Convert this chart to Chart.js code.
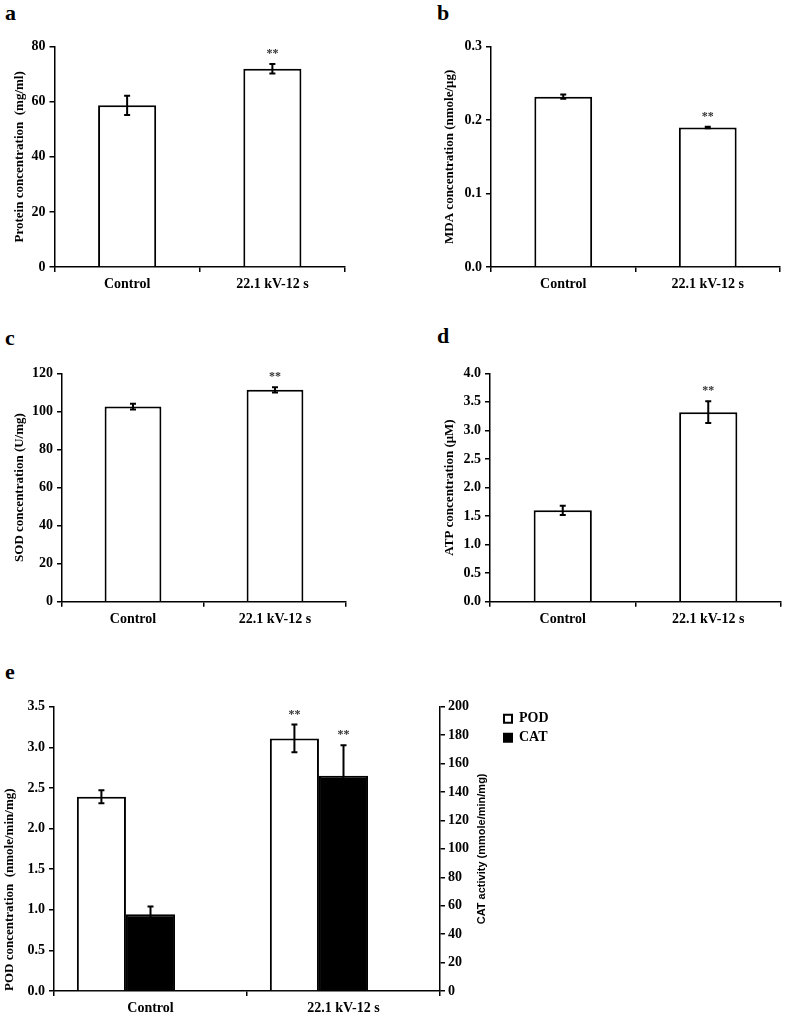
<!DOCTYPE html>
<html>
<head>
<meta charset="utf-8">
<script src="https://cdn.jsdelivr.net/npm/chart.js@4"></script>
<style>
  body { margin: 0; width: 787px; height: 1015px; overflow: hidden; background: #fff; position: relative; font-family: 'Liberation Serif', 'Times New Roman', serif; }
  canvas { position: absolute; }
  .tag { position: absolute; font-weight: bold; font-size: 22px; line-height: 22px; }
</style>
</head>
<body>
<div class="tag" style="left:5px;top:2px">a</div>
<div class="tag" style="left:437px;top:2px">b</div>
<div class="tag" style="left:5px;top:327px">c</div>
<div class="tag" style="left:437px;top:325px">d</div>
<div class="tag" style="left:5px;top:661px">e</div>
<canvas id="chartA"></canvas>
<canvas id="chartB"></canvas>
<canvas id="chartC"></canvas>
<canvas id="chartD"></canvas>
<canvas id="chartE"></canvas>
<script>
const categories = ['Control', '22.1 kV-12 s']
const significance = ['', '**']

const proteinMean = [58.7, 72.0]
const proteinErr = [3.5, 1.7]
const mdaMean = [0.232, 0.19]
const mdaErr = [0.003, 0.001]
const sodMean = [102.5, 111.3]
const sodErr = [1.5, 1.4]
const atpMean = [1.6, 3.32]
const atpErr = [0.08, 0.19]
const podMean = [2.39, 3.11]
const podErr = [0.08, 0.17]
const catMean = [54, 151.5]
const catErr = [5.4, 21.4]

Chart.defaults.font.family = "'Liberation Serif', 'Times New Roman', serif"
Chart.defaults.font.weight = 'bold'
Chart.defaults.font.size = 14
Chart.defaults.color = '#000'

// error bars and significance marks on top of each bar
const errorBars = {
  id: 'errorBars',
  afterDatasetsDraw(chart) {
    const ctx = chart.ctx
    chart.data.datasets.forEach((ds, i) => {
      if (!ds.errors) return
      const meta = chart.getDatasetMeta(i)
      const yScale = chart.scales[meta.yAxisID]
      meta.data.forEach((bar, j) => {
        const v = ds.data[j]
        const e = ds.errors[j]
        if (v == null) return
        const top = yScale.getPixelForValue(v + e)
        const bot = yScale.getPixelForValue(v - e)
        ctx.save()
        ctx.strokeStyle = '#000'
        ctx.lineWidth = 2
        ctx.beginPath()
        ctx.moveTo(bar.x, top); ctx.lineTo(bar.x, bot)
        ctx.moveTo(bar.x - 3, top); ctx.lineTo(bar.x + 3, top)
        ctx.moveTo(bar.x - 3, bot); ctx.lineTo(bar.x + 3, bot)
        ctx.stroke()
        if (ds.stars && ds.stars[j]) {
          ctx.fillStyle = '#333'
          ctx.font = "bold 12px 'Liberation Serif'"
          ctx.textAlign = 'center'
          ctx.textBaseline = 'middle'
          ctx.fillText(ds.stars[j], bar.x, top - 10)
        }
        ctx.restore()
      })
    })
  }
}

// right axis title reading bottom-to-top, like the left one
const rightTitle = {
  id: 'rightTitle',
  afterDraw(chart, args, opts) {
    const scale = chart.scales[opts.scaleId]
    if (!scale) return
    const ctx = chart.ctx
    ctx.save()
    ctx.translate(scale.right - opts.offset, (scale.top + scale.bottom) / 2)
    ctx.rotate(-Math.PI / 2)
    ctx.fillStyle = '#000'
    ctx.font = opts.font
    ctx.textAlign = 'center'
    ctx.textBaseline = 'middle'
    ctx.fillText(opts.text, 0, 0)
    ctx.restore()
  }
}

const axisLine = { color: '#000', width: 1.5 }
const tickMarks = { drawOnChartArea: false, color: '#000', lineWidth: 1.5, tickLength: 5 }

function place(canvas, pos) {
  canvas.width = pos.w
  canvas.height = pos.h
  canvas.style.left = pos.x + 'px'
  canvas.style.top = pos.y + 'px'
}

function simplePanel(id, pos, area, titleX, yTitle, yMax, yStep, digits, means, errs) {
  const canvas = document.getElementById(id)
  place(canvas, pos)
  const scaleLeft = titleX - (13 * 1.2 / 2 + 4) - pos.x
  new Chart(canvas, {
    type: 'bar',
    data: {
      labels: categories,
      datasets: [{
        data: means,
        errors: errs,
        stars: significance,
        backgroundColor: '#fff',
        borderColor: '#000',
        borderWidth: 2,
        barPercentage: 1,
        categoryPercentage: 0.4
      }]
    },
    options: {
      responsive: false,
      animation: false,
      layout: { padding: { left: scaleLeft, top: area.t - pos.y, right: pos.x + pos.w - area.r, bottom: 0 } },
      plugins: { legend: { display: false }, tooltip: { enabled: false } },
      scales: {
        x: {
          grid: { ...tickMarks, offset: true },
          border: axisLine,
          ticks: { padding: 4 },
          afterFit: s => { s.height = pos.y + pos.h - area.b }
        },
        y: {
          min: 0,
          max: yMax,
          ticks: { stepSize: yStep, padding: 4, callback: v => v.toFixed(digits) },
          grid: tickMarks,
          border: axisLine,
          title: { display: true, text: yTitle, font: { size: 13 }, padding: { top: 4, bottom: 4 } },
          afterFit: s => { s.width = area.l - pos.x - scaleLeft }
        }
      }
    },
    plugins: [errorBars]
  })
}

simplePanel('chartA', { x: 0, y: 20, w: 390, h: 290 }, { l: 54.5, t: 46.7, r: 345, b: 267 }, 20,
  'Protein concentration  (mg/ml)', 80, 20, 0, proteinMean, proteinErr)
simplePanel('chartB', { x: 390, y: 20, w: 397, h: 290 }, { l: 491, t: 46.7, r: 780, b: 267 }, 450,
  'MDA concentration (nmole/\u03bcg)', 0.3, 0.1, 1, mdaMean, mdaErr)
simplePanel('chartC', { x: 0, y: 350, w: 390, h: 290 }, { l: 62, t: 373.3, r: 346, b: 601.7 }, 20,
  'SOD concentration (U/mg)', 120, 20, 0, sodMean, sodErr)
simplePanel('chartD', { x: 390, y: 350, w: 397, h: 290 }, { l: 490, t: 373.3, r: 781, b: 601.7 }, 450,
  'ATP concentration (\u03bcM)', 4, 0.5, 1, atpMean, atpErr)

// panel e: POD on the left axis, CAT on the right axis
const posE = { x: 0, y: 680, w: 560, h: 335 }
const areaE = { l: 54, t: 706.7, r: 436, b: 991 }
const canvasE = document.getElementById('chartE')
place(canvasE, posE)
new Chart(canvasE, {
  type: 'bar',
  data: {
    labels: categories,
    datasets: [
      { label: 'POD', data: podMean, errors: podErr, stars: significance, yAxisID: 'y',
        backgroundColor: '#fff', borderColor: '#000', borderWidth: 2 },
      { label: 'CAT', data: catMean, errors: catErr, stars: significance, yAxisID: 'y1',
        backgroundColor: '#000', borderColor: '#000', borderWidth: 2 },
      { label: '', data: [null, null], yAxisID: 'y' }
    ]
  },
  options: {
    responsive: false,
    animation: false,
    datasets: { bar: { barPercentage: 1, categoryPercentage: 0.763 } },
    layout: { padding: { left: 2, top: areaE.t - posE.y, right: 11, bottom: 0 } },
    plugins: {
      tooltip: { enabled: false },
      legend: {
        position: 'right',
        align: 'start',
        maxWidth: 50,
        labels: {
          boxWidth: 8,
          boxHeight: 8,
          padding: 5,
          font: { size: 14 },
          color: '#000',
          filter: item => item.text !== ''
        }
      },
      rightTitle: {
        scaleId: 'y1',
        text: 'CAT activity (mmole/min/mg)',
        font: "bold 11px 'Liberation Sans', Arial, sans-serif",
        offset: 17
      }
    },
    scales: {
      x: {
        grid: { ...tickMarks, offset: true },
        border: axisLine,
        ticks: { padding: 4 },
        afterFit: s => { s.height = posE.y + posE.h - areaE.b }
      },
      y: {
        min: 0,
        max: 3.5,
        ticks: { stepSize: 0.5, padding: 4, callback: v => v.toFixed(1) },
        grid: tickMarks,
        border: axisLine,
        title: { display: true, text: 'POD concentration  (nmole/min/mg)', align: 'start', font: { size: 13 }, padding: { top: 0, bottom: 0 } },
        afterFit: s => { s.width = areaE.l - 2 }
      },
      y1: {
        position: 'right',
        min: 0,
        max: 200,
        ticks: { stepSize: 20, padding: 3 },
        grid: tickMarks,
        border: axisLine,
        afterFit: s => { s.width = 59 }
      }
    }
  },
  plugins: [errorBars, rightTitle]
})
</script>
</body>
</html>
